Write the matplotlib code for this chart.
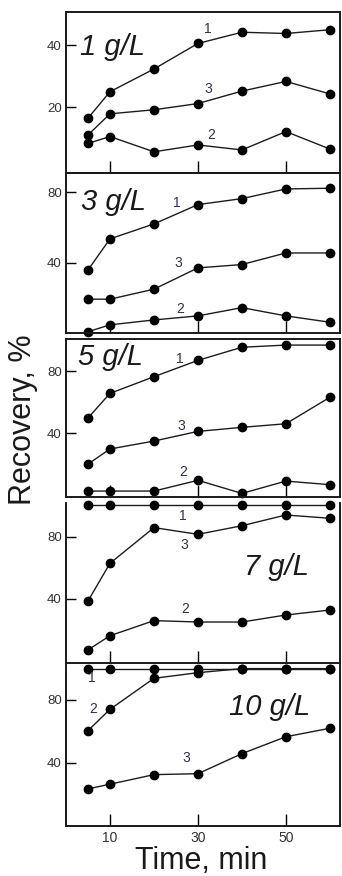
import matplotlib
matplotlib.use("Agg")
import matplotlib.pyplot as plt

plt.rcParams['font.family'] = ['Liberation Sans', 'DejaVu Sans']

# Sampling times, min
time = [5, 10, 20, 30, 40, 50, 60]

# Recovery (%) of components 1, 2, 3 at each sorbent dose
panels = ["1 g/L", "3 g/L", "5 g/L", "7 g/L", "10 g/L"]

rec_1gL_1 = [16.5, 25.0, 32.3, 40.5, 44.1, 43.7, 44.9]
rec_1gL_2 = [8.4, 10.6, 5.7, 7.9, 6.3, 12.2, 6.6]
rec_1gL_3 = [11.1, 17.9, 19.2, 21.2, 25.2, 28.3, 24.3]

rec_3gL_1 = [35.8, 53.5, 62.0, 73.0, 76.4, 81.9, 82.3]
rec_3gL_2 = [0.7, 4.6, 7.4, 9.7, 14.4, 9.7, 6.1]
rec_3gL_3 = [19.2, 19.2, 24.9, 37.0, 38.9, 45.5, 45.5]

rec_5gL_1 = [49.9, 65.7, 76.4, 86.9, 95.3, 96.7, 96.7]
rec_5gL_2 = [3.0, 3.0, 3.0, 9.9, 1.5, 9.4, 7.1]
rec_5gL_3 = [20.3, 30.0, 35.1, 41.3, 43.9, 46.2, 63.2]

rec_7gL_1 = [100, 100, 100, 100, 100, 100, 100]
rec_7gL_2 = [7.3, 16.4, 26.1, 25.2, 25.2, 29.7, 32.9]
rec_7gL_3 = [38.7, 62.9, 85.8, 81.5, 87.0, 93.9, 91.8]

rec_10gL_1 = [100, 100, 100, 100, 100, 100, 100]
rec_10gL_2 = [60.4, 74.0, 93.8, 97.4, 100, 100, 100]
rec_10gL_3 = [23.2, 26.2, 32.3, 32.9, 45.7, 56.5, 61.9]

series = [
    (rec_1gL_1, rec_1gL_2, rec_1gL_3),
    (rec_3gL_1, rec_3gL_2, rec_3gL_3),
    (rec_5gL_1, rec_5gL_2, rec_5gL_3),
    (rec_7gL_1, rec_7gL_2, rec_7gL_3),
    (rec_10gL_1, rec_10gL_2, rec_10gL_3),
]

x_ticks = [10, 30, 50]
y_ticks = [[20, 40], [40, 80], [40, 80], [40, 80], [40, 80]]

# Layout in pixels: (top, bottom) of each panel
W, H = 342, 876
left_px, right_px = 66, 340
rows = [(12, 173.3), (173.3, 333.3), (339, 497.3), (503, 663.3), (665, 825.7)]
ylims = [(-1.2, 50.6), (-0.2, 90.8), (-1.0, 100.6), (-1.3, 101.6), (-0.3, 102.3)]
show_top = [True, True, True, False, False]

# Curve-number label positions (x, y) in data units, order: 1, 2, 3
num_pos = [
    [(32.3, 45.0), (33.0, 11.0), (32.3, 26.0)],
    [(25.2, 73.8), (25.9, 13.5), (25.5, 39.6)],
    [(25.9, 87.5), (26.7, 15.4), (26.3, 44.7)],
    [(26.5, 93.5), (27.0, 33.6), (26.9, 74.6)],
    [(5.8, 93.8), (6.1, 74.0), (27.3, 42.8)],
]
# Dose label centres in pixel coordinates
dose_pos = [(113, 47), (113.3, 201.7), (110, 356.7), (276.7, 566.7), (270, 706.7)]

fig = plt.figure(figsize=(W / 100, H / 100), dpi=100)

line_kw = dict(color="#1c1c1c", lw=1.0, marker="o", markersize=6,
               markerfacecolor="black", markeredgecolor="black")

for i, (top, bot) in enumerate(rows):
    ax = fig.add_axes([left_px / W, 1 - bot / H, (right_px - left_px) / W, (bot - top) / H])
    for s in series[i]:
        ax.plot(time, s, **line_kw, clip_on=False)
    ax.set_xlim(0, 62.3)
    ax.set_ylim(*ylims[i])
    ax.set_xticks(x_ticks)
    ax.set_yticks(y_ticks[i])
    ax.tick_params(axis="x", direction="in", length=9, width=1.0, pad=4,
                   labelsize=10, labelcolor="#333333")
    ax.tick_params(axis="y", direction="in", length=7, width=1.0, pad=3,
                   labelsize=9.5, labelcolor="#333333")
    if i < len(rows) - 1:
        ax.set_xticklabels([])
    for side in ("left", "right", "bottom", "top"):
        ax.spines[side].set_linewidth(1.4)
        ax.spines[side].set_color("#1a1a1a")
    ax.spines["top"].set_visible(show_top[i])
    ax.patch.set_alpha(0)
    for k, (tx, ty) in enumerate(num_pos[i]):
        ax.text(tx, ty, str(k + 1), fontsize=10, color="#303050",
                ha="center", va="center")
    dx, dy = dose_pos[i]
    fig.text(dx / W, 1 - dy / H, panels[i], fontsize=21, style="italic",
             color="#1a1a1a", ha="center", va="center")

fig.text(201 / W, 1 - 861 / H, "Time, min", fontsize=22, color="#1a1a1a",
         ha="center", va="center")
fig.text(23 / W, 1 - 420 / H, "Recovery, %", fontsize=22, color="#1a1a1a",
         ha="center", va="center", rotation=90)

fig.savefig("out.png", dpi=100)
